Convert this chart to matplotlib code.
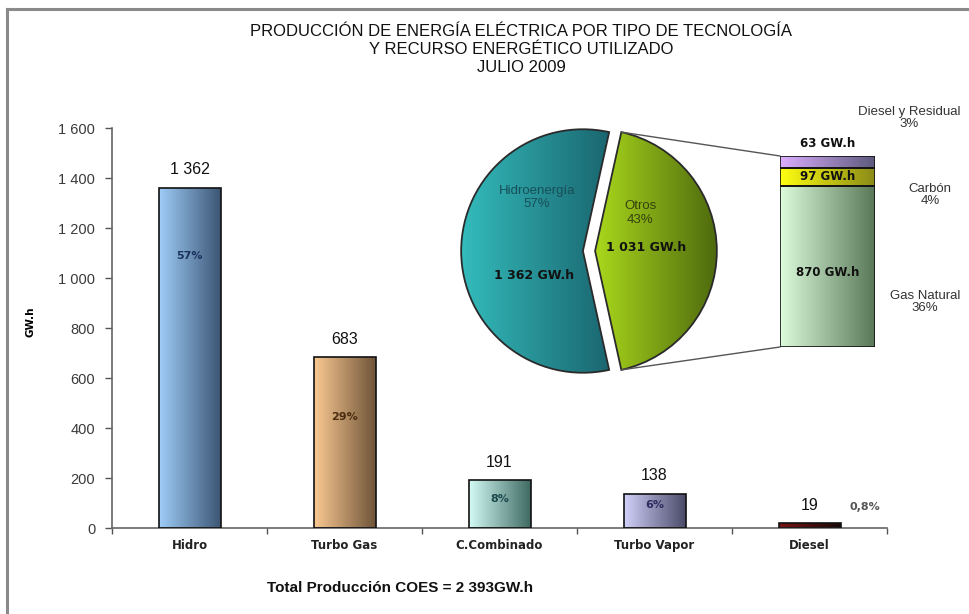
import numpy as np
import matplotlib
matplotlib.use("Agg")
import matplotlib.pyplot as plt
from matplotlib.colors import LinearSegmentedColormap
from matplotlib.patches import ConnectionPatch

plt.rcParams['font.family'] = ['Liberation Sans', 'DejaVu Sans']

# ------------------------------------------------------------
# Datos
# ------------------------------------------------------------
tecnologias = ["Hidro", "Turbo Gas", "C.Combinado", "Turbo Vapor", "Diesel"]
produccion = [1362, 683, 191, 138, 19]
porcentajes = ["57%", "29%", "8%", "6%", "0,8%"]

pie_labels = ["Hidroenergía\n57%", "Otros\n43%"]
pie_valores = [1362, 1031]

recursos = ["Gas Natural", "Carbón", "Diesel y Residual"]
recursos_valores = [870, 97, 63]
recursos_pct = ["36%", "4%", "3%"]

total = 2393
yticks = [0, 200, 400, 600, 800, 1000, 1200, 1400, 1600]
titulo = ["PRODUCCIÓN DE ENERGÍA ELÉCTRICA POR TIPO DE TECNOLOGÍA",
          "Y RECURSO ENERGÉTICO UTILIZADO", "JULIO 2009"]

# colores (claro -> oscuro) para los degradados
bar_grad = [("#9fcdf8", "#3c5674"), ("#fbc992", "#6e5438"), ("#d4fbf6", "#3e6a62"),
            ("#d0d0fa", "#4a4a68"), ("#7a1414", "#1a0808")]
pct_colors = ["#1c3360", "#4a2c10", "#1c4a4e", "#2c2c60", "#555555"]
pct_frac = [0.80, 0.65, 0.60, 0.67, None]
pie_grad = [("#34bcbc", "#1a6670"), ("#aad81c", "#4e6a0e")]
rec_grad = [("#dcfcdc", "#587858"), ("#ffff10", "#8a8a18"), ("#dcaeff", "#5c5a7c")]

W, H = 969, 614


def fig_box(x0, y0, x1, y1):
    # caja en pixeles (origen arriba-izquierda) -> coordenadas de figura
    return [x0 / W, 1 - y1 / H, (x1 - x0) / W, (y1 - y0) / H]


def fill_gradient(ax, patch, c1, c2, extent, zorder):
    cmap = LinearSegmentedColormap.from_list("g", [c1, c2])
    img = ax.imshow(np.linspace(0, 1, 256).reshape(1, -1), cmap=cmap, aspect="auto",
                    extent=extent, origin="lower", zorder=zorder, interpolation="bilinear")
    img.set_clip_path(patch)
    return img


fig = plt.figure(figsize=(W / 100, H / 100), dpi=100)

# marco exterior
fig.add_artist(plt.Line2D([7 / W, 7 / W], [0, 1 - 9 / H], color="#8a8a8a", lw=2.2))
fig.add_artist(plt.Line2D([7 / W, 1], [1 - 9 / H, 1 - 9 / H], color="#8a8a8a", lw=2.2))

# ------------------------------------------------------------
# Barras por tecnologia
# ------------------------------------------------------------
ax = fig.add_axes(fig_box(112, 128, 887, 528))
x = np.arange(len(tecnologias))
bars = ax.bar(x, produccion, width=0.4, facecolor="none", edgecolor="#111111", lw=1.2, zorder=3)
for b, (c1, c2) in zip(bars, bar_grad):
    ext = [b.get_x(), b.get_x() + b.get_width(), 0, b.get_height()]
    fill_gradient(ax, b, c1, c2, ext, 2)

ax.set_xlim(-0.5, len(tecnologias) - 0.5)
ax.set_ylim(0, 1600)
ax.set_yticks(yticks)
ax.set_yticklabels([f"{v:,}".replace(",", " ") for v in yticks], fontsize=10.5, color="#3a3a3a")
ax.set_xticks(np.arange(len(tecnologias) + 1) - 0.5)
ax.set_xticklabels([])
ax.tick_params(axis="y", length=5, width=1, color="#555555", pad=7)
ax.tick_params(axis="x", length=4, width=1, color="#555555")
for s in ["top", "right"]:
    ax.spines[s].set_visible(False)
for s in ["left", "bottom"]:
    ax.spines[s].set_color("#666666")
    ax.spines[s].set_linewidth(1.2)

for i, (t, v) in enumerate(zip(tecnologias, produccion)):
    ax.text(i, -70, t, ha="center", va="center", fontsize=8.5, fontweight="bold",
            family="DejaVu Sans", color="#222222")
    ax.text(i, v + 40, f"{v:,}".replace(",", " "), ha="center", va="bottom", fontsize=11.5,
            color="#111111")
    if pct_frac[i] is not None:
        ax.text(i, v * pct_frac[i], porcentajes[i], ha="center", va="center", fontsize=8,
                fontweight="bold", family="DejaVu Sans", color=pct_colors[i])
    else:
        ax.text(i + 0.36, v + 65, porcentajes[i], ha="center", va="center", fontsize=8,
                fontweight="bold", family="DejaVu Sans", color=pct_colors[i])

ax.set_ylabel("GW.h", fontsize=7.5, fontweight="bold", family="DejaVu Sans")
ax.yaxis.set_label_coords(-0.099, 0.515)

# ------------------------------------------------------------
# Pastel Hidro vs Otros
# ------------------------------------------------------------
pax = fig.add_axes(fig_box(589 - 140, 251 - 140, 589 + 140, 251 + 140))
frac_h = pie_valores[0] / sum(pie_valores)
wedges, _ = pax.pie(pie_valores, startangle=180 - 180 * frac_h, explode=[0.05, 0.05],
                    wedgeprops=dict(facecolor="none", edgecolor="#2a2a2a", lw=1.3))
for w, (c1, c2) in zip(wedges, pie_grad):
    w.set_zorder(3)
    e = w.get_path().get_extents()
    fill_gradient(pax, w, c1, c2, [e.x0, e.x1, e.y0, e.y1], 2)
pax.set_xlim(-1.15, 1.15)
pax.set_ylim(-1.15, 1.15)
pax.set_aspect("equal")
pax.axis("off")

pax.text(-0.43, 0.44, pie_labels[0], ha="center", va="center", fontsize=9.5, color="#174f58")
pax.text(-0.45, -0.20, f"{pie_valores[0]:,} GW.h".replace(",", " "), ha="center", va="center",
         fontsize=9, fontweight="bold", family="DejaVu Sans", color="#111111")
pax.text(0.42, 0.31, pie_labels[1], ha="center", va="center", fontsize=9.5, color="#33420c")
pax.text(0.47, 0.03, f"{pie_valores[1]:,} GW.h".replace(",", " "), ha="center", va="center",
         fontsize=9, fontweight="bold", family="DejaVu Sans", color="#111111")

# ------------------------------------------------------------
# Barra apilada de recursos (Otros)
# ------------------------------------------------------------
sax = fig.add_axes(fig_box(780, 156, 875, 347))
base = 0
segs = []
for v, (c1, c2) in zip(recursos_valores, rec_grad):
    b = sax.bar(0, v, bottom=base, width=1, facecolor="none", edgecolor="#111111", lw=1.2,
                zorder=3)[0]
    fill_gradient(sax, b, c1, c2, [-0.5, 0.5, base, base + v], 2)
    segs.append((base, v))
    base += v
sax.set_xlim(-0.5, 0.5)
sax.set_ylim(0, sum(recursos_valores))
sax.axis("off")

sax.text(0, segs[0][0] + segs[0][1] * 0.46, f"{recursos_valores[0]} GW.h", ha="center",
         va="center", fontsize=8.5, fontweight="bold", family="DejaVu Sans", color="#111111")
sax.text(0, segs[1][0] + segs[1][1] / 2, f"{recursos_valores[1]} GW.h", ha="center",
         va="center", fontsize=8.5, fontweight="bold", family="DejaVu Sans", color="#111111")
sax.text(0, base + 30, f"{recursos_valores[2]} GW.h", ha="center", va="bottom",
         fontsize=8.5, fontweight="bold", family="DejaVu Sans", color="#111111")

# etiquetas a la derecha
lab_pos = [(925, 302), (930, 195), (909, 118)]
for (px, py), r, p in zip(lab_pos, recursos, recursos_pct):
    fig.text(px / W, 1 - py / H, f"{r}\n{p}", ha="center", va="center", fontsize=9.5,
             color="#333333", linespacing=1.0)

# lineas de conexion
w = wedges[1]
cx, cy = w.center
for ang, yb in [(w.theta2, sum(recursos_valores)), (w.theta1, 0)]:
    xa = cx + w.r * np.cos(np.radians(ang))
    ya = cy + w.r * np.sin(np.radians(ang))
    con = ConnectionPatch(xyA=(xa, ya), coordsA=pax.transData, xyB=(-0.5, yb),
                          coordsB=sax.transData, color="#555555", lw=1)
    fig.add_artist(con)

# ------------------------------------------------------------
# Titulos
# ------------------------------------------------------------
for k, linea in enumerate(titulo):
    fig.text(521 / W, 1 - (32 + 17.5 * k) / H, linea, ha="center", va="center",
             fontsize=12, color="#111111")
fig.text(400 / W, 1 - 588 / H,
         f"Total Producción COES = {total:,}GW.h".replace(",", " "),
         ha="center", va="center", fontsize=11, fontweight="bold", color="#111111")

fig.savefig("out.png", dpi=100)
